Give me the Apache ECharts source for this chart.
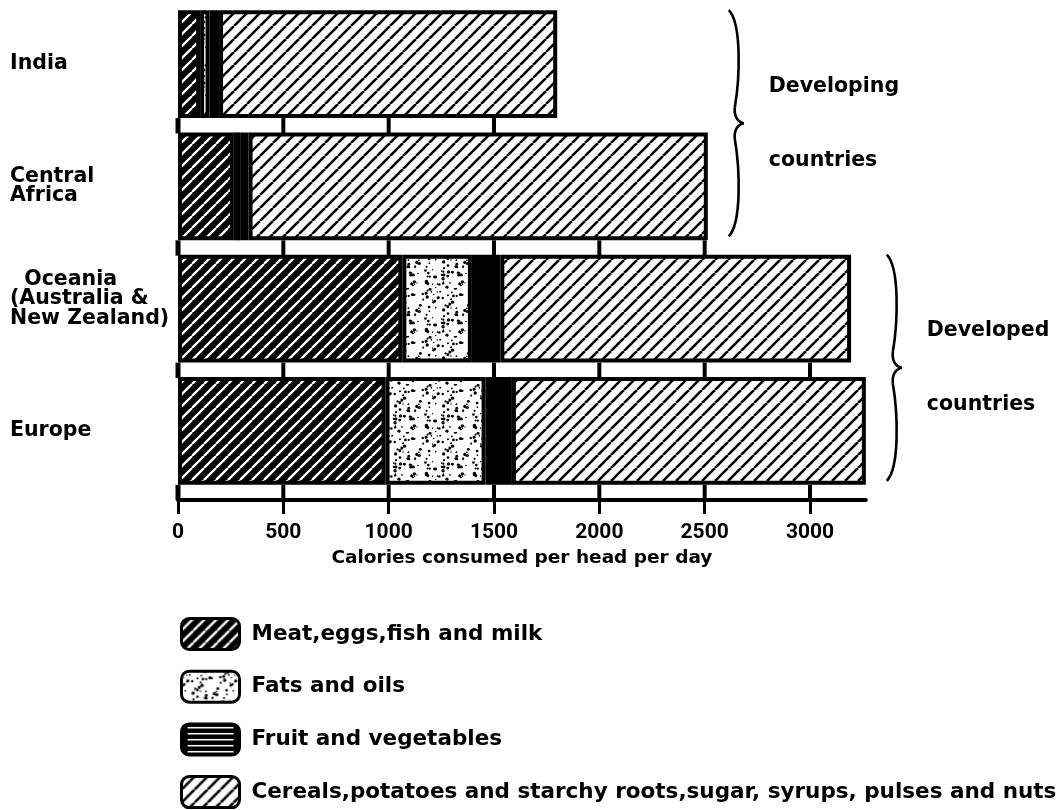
<!DOCTYPE html>
<html>
<head>
<meta charset="utf-8">
<script src="https://cdn.jsdelivr.net/npm/echarts@6/dist/echarts.min.js"></script>
<style>
html, body { margin: 0; padding: 0; background: #fff; }
#main { width: 1064px; height: 810px; }
</style>
</head>
<body>
<div id="main"></div>
<script>
// data (calories per head per day)
var regions = ['India', 'Central\nAfrica', 'Oceania\n(Australia &\nNew Zealand)', 'Europe'];
var meat = [105, 265, 1065, 985];
var fats = [45, 30, 330, 475];
var fruit = [45, 40, 135, 125];
var cereals = [1605, 2180, 1665, 1680];
var tickValues = [0, 500, 1000, 1500, 2000, 2500, 3000];
var groupNames = [['Developing', 'countries'], ['Developed', 'countries']];
var groupMembers = [[0, 1], [2, 3]];
var seriesNames = ['Meat,eggs,fish and milk', 'Fats and oils', 'Fruit and vegetables',
  'Cereals,potatoes and starchy roots,sugar, syrups, pulses and nuts'];

var totals = regions.map(function (r, i) { return meat[i] + fats[i] + fruit[i] + cereals[i]; });
var maxTotal = Math.max.apply(null, totals);
var GAP = 0.117;
var labelFont = 'DejaVu Sans';

// hatch / stipple fills
function stripes(size, bg, fg, w) {
  var c = document.createElement('canvas');
  c.width = c.height = size;
  var g = c.getContext('2d');
  g.fillStyle = bg;
  g.fillRect(0, 0, size, size);
  g.strokeStyle = fg;
  g.lineWidth = w;
  g.beginPath();
  for (var k = -1; k <= 1; k++) {
    g.moveTo(k * size, size);
    g.lineTo(k * size + size, 0);
  }
  g.stroke();
  return { image: c, repeat: 'repeat' };
}
function stipple(size, n) {
  var c = document.createElement('canvas');
  c.width = c.height = size;
  var g = c.getContext('2d');
  g.fillStyle = '#fff';
  g.fillRect(0, 0, size, size);
  g.fillStyle = '#000';
  var s = 7;
  function rnd() { s = (s * 16807) % 2147483647; return s / 2147483647; }
  for (var i = 0; i < n; i++) {
    g.beginPath();
    g.arc(rnd() * size, rnd() * size, 0.7 + rnd() * 1.0, 0, Math.PI * 2);
    g.fill();
  }
  return { image: c, repeat: 'repeat' };
}
function dashes() {
  var c = document.createElement('canvas');
  c.width = 60; c.height = 6;
  var g = c.getContext('2d');
  g.fillStyle = '#000';
  g.fillRect(0, 0, 60, 6);
  g.fillStyle = '#fff';
  g.fillRect(6, 3, 46, 1.5);
  return { image: c, repeat: 'repeat' };
}

var meatFill = stripes(12, '#000', '#fff', 2.4);
var fatFill = stipple(48, 85);
var cerealFill = stripes(13, '#fff', '#000', 2.6);

var myChart = echarts.init(document.getElementById('main'));

function barSeries(name, values, fill) {
  return {
    name: name,
    type: 'bar',
    stack: 'total',
    barCategoryGap: (GAP * 100) + '%',
    z: 3,
    itemStyle: { color: fill, borderColor: '#000', borderWidth: 4 },
    emphasis: { disabled: true },
    data: values
  };
}

// the little ruler under each bar, divided every 500 up to the bar's length
function renderRuler(params, api) {
  var total = api.value(0);
  var idx = api.value(1);
  var c = api.coord([0, idx]);
  var band = api.size([0, 1])[1];
  var barH = band * (1 - GAP);
  var y0 = c[1] + barH / 2;
  var y1 = y0 + band - barH + 1;
  var children = [];
  tickValues.forEach(function (v) {
    if (v > total) return;
    var x = api.coord([v, idx])[0];
    children.push({
      type: 'line',
      shape: { x1: x, y1: y0, x2: x, y2: y1 },
      style: { stroke: '#000', lineWidth: v === 0 ? 5 : 4 }
    });
  });
  return { type: 'group', children: children };
}

// one legend block per entry, stacked down the page
var legends = seriesNames.map(function (n, i) {
  var item = i === 2 ? { name: n, itemStyle: { color: dashes() } } : n;
  return {
    orient: 'vertical',
    left: 180,
    top: 617 + i * 52.7,
    padding: 0,
    itemWidth: 58,
    itemHeight: 31,
    icon: 'roundRect',
    selectedMode: false,
    itemStyle: { borderColor: '#000', borderWidth: 3 },
    textStyle: { color: '#000', fontFamily: labelFont, fontWeight: 'bold', fontSize: 21.5, padding: [0, 0, 0, 7] },
    data: [item]
  };
});

var option = {
  animation: false,
  backgroundColor: '#fff',
  grid: { left: 178, top: 3, width: maxTotal * 632 / 3000, height: 489, outerBoundsMode: 'none', containLabel: false },
  xAxis: {
    type: 'value',
    min: 0,
    max: maxTotal,
    offset: 8,
    splitLine: { show: false },
    axisLine: { show: true, onZero: false, lineStyle: { color: '#000', width: 4 } },
    axisTick: { show: true, customValues: tickValues, length: 14, lineStyle: { color: '#000', width: 3 } },
    axisLabel: {
      customValues: tickValues, margin: 22, color: '#000',
      fontFamily: 'Roboto', fontWeight: 'bold', fontSize: 21,
      formatter: function (v) { return String(v); }
    },
    name: 'Calories consumed per head per day',
    nameLocation: 'middle',
    nameGap: 49,
    nameTextStyle: { color: '#000', fontFamily: labelFont, fontWeight: 'bold', fontSize: 18.5 }
  },
  yAxis: {
    type: 'category',
    inverse: true,
    data: regions,
    axisLine: { show: false },
    axisTick: { show: false },
    axisLabel: {
      margin: 168, align: 'left', color: '#000', lineHeight: 19.5,
      fontFamily: labelFont, fontWeight: 'bold', fontSize: 20.5,
      // the Oceania block sits a little above its bar in the original
      formatter: function (v) { return v.indexOf('Oceania') === 0 ? v.replace('Oceania', '  Oceania') + '\n' : v; }
    }
  },
  legend: legends,
  series: [
    {
      type: 'custom',
      silent: true,
      z: 1,
      renderItem: renderRuler,
      encode: { x: 0, y: 1 },
      data: totals.map(function (t, i) { return [t, i]; })
    },
    barSeries(seriesNames[0], meat, meatFill),
    barSeries(seriesNames[1], fats, fatFill),
    barSeries(seriesNames[2], fruit, '#000'),
    barSeries(seriesNames[3], cereals, cerealFill)
  ]
};

myChart.setOption(option);

// braces for the two groups of countries, placed from the bars
var p0 = myChart.convertToPixel({ gridIndex: 0 }, [0, 0]);
var p1 = myChart.convertToPixel({ gridIndex: 0 }, [0, 1]);
var band = p1[1] - p0[1];
var barH = band * (1 - GAP);
var graphics = [];
groupMembers.forEach(function (m, gi) {
  var first = m[0], last = m[m.length - 1];
  var gMax = Math.max.apply(null, m.map(function (i) { return totals[i]; }));
  var x0 = myChart.convertToPixel({ gridIndex: 0 }, [gMax, first])[0] + 21;
  var yt = myChart.convertToPixel({ gridIndex: 0 }, [0, first])[1] - barH / 2;
  var yb = myChart.convertToPixel({ gridIndex: 0 }, [0, last])[1] + barH / 2 - 4;
  var hh = (yb - yt) / 2;
  function P(dx, f) { return [x0 + dx, yt + f * hh]; }
  var curves = [
    [P(0, 0), P(13, 0.12), P(11, 0.6), P(6, 0.86)],
    [P(6, 0.86), P(5, 0.94), P(9, 0.99), P(15, 1)],
    [P(15, 1), P(9, 1.01), P(5, 1.06), P(6, 1.14)],
    [P(6, 1.14), P(11, 1.4), P(13, 1.88), P(0, 2)]
  ];
  curves.forEach(function (q) {
    graphics.push({
      type: 'bezierCurve',
      silent: true,
      shape: {
        x1: q[0][0], y1: q[0][1], cpx1: q[1][0], cpy1: q[1][1],
        cpx2: q[2][0], cpy2: q[2][1], x2: q[3][0], y2: q[3][1]
      },
      style: { fill: null, stroke: '#000', lineWidth: 2.6 }
    });
  });
  var ym = yt + hh;
  groupNames[gi].forEach(function (t, k) {
    graphics.push({
      type: 'text',
      x: x0 + 40,
      y: ym + (k === 0 ? -37 : 37),
      silent: true,
      style: {
        text: t, fill: '#000', fontFamily: labelFont, fontWeight: 'bold', fontSize: 20.5,
        align: 'left', verticalAlign: 'middle'
      }
    });
  });
});
myChart.setOption({ graphic: graphics });
</script>
</body>
</html>
